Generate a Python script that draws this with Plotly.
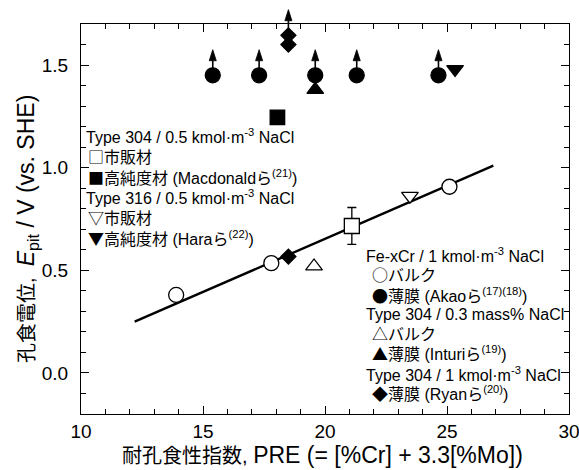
import plotly.graph_objects as go

# ---------------- data ----------------
fecr_bulk_pre = [13.9, 17.8, 25.1]
fecr_bulk_epit = [0.38, 0.535, 0.907]
fecr_film_pre = [15.4, 17.3, 19.6, 21.3, 24.65]
fecr_film_epit = [1.45, 1.45, 1.45, 1.45, 1.45]
t304_03_bulk_pre = [19.55]
t304_03_bulk_epit = [0.52]
t304_03_film_pre = [19.6]
t304_03_film_epit = [1.38]
t304_1_film_pre = [18.5, 18.5, 18.5]
t304_1_film_epit = [0.567, 1.60, 1.645]
t304_05_comm_pre = [21.1]
t304_05_comm_epit = [0.716]
t304_05_comm_err = [0.09]
t304_05_hp_pre = [18.05]
t304_05_hp_epit = [1.245]
t316_comm_pre = [23.48]
t316_comm_epit = [0.862]
t316_hp_pre = [25.33]
t316_hp_epit = [1.48]
fit_pre = [12.2, 26.9]
fit_epit = [0.25, 1.01]
# points given as lower bounds (drawn with an upward arrow)
lb_pre = fecr_film_pre + [18.5]
lb_epit = fecr_film_epit + [1.645]

x_range = [10, 30]
y_range = [-0.2, 1.7]

FONT = "Liberation Sans, Arial, Noto Sans CJK JP, sans-serif"
SYM = "font-family:Noto Sans CJK JP"

W, H = 579, 470
ML, MR, MT, MB = 81, 10, 0, 56
PLOT_W = W - ML - MR          # 488
PLOT_H = H - MT - MB          # 414
AX_H = 390                    # visible axes height in px
dom_top = AX_H / PLOT_H
# y2 spans the full paper height, with the same scale as y
y2_range = [y_range[0], y_range[0] + (y_range[1] - y_range[0]) * PLOT_H / AX_H]

fig = go.Figure()

# fit line
fig.add_trace(go.Scatter(x=fit_pre, y=fit_epit, mode="lines",
                         line=dict(color="black", width=2.4), showlegend=False))


def mk(x, y, symbol, size, filled, err=None):
    kw = {}
    if err is not None:
        kw["error_y"] = dict(type="data", array=err, visible=True, color="black",
                             thickness=1.3, width=4.5)
    fig.add_trace(go.Scatter(
        x=x, y=y, mode="markers", showlegend=False, cliponaxis=False,
        marker=dict(symbol=symbol, size=size,
                    color="black" if filled else "white",
                    line=dict(color="black", width=1.3)), **kw))


mk(fecr_bulk_pre, fecr_bulk_epit, "circle", 15, False)
mk(t304_05_comm_pre, t304_05_comm_epit, "square", 15, False, t304_05_comm_err)
mk(t316_comm_pre, t316_comm_epit, "triangle-down", 14.5, False)
mk(t304_03_bulk_pre, t304_03_bulk_epit, "triangle-up", 14.5, False)
mk(t304_03_film_pre, t304_03_film_epit, "triangle-up", 14.5, True)
mk(fecr_film_pre, fecr_film_epit, "circle", 15, True)
mk(t304_1_film_pre, t304_1_film_epit, "diamond", 11.5, True)
mk(t304_05_hp_pre, t304_05_hp_epit, "square", 14.5, True)
mk(t316_hp_pre, t316_hp_epit, "triangle-down", 14.5, True)

# upward arrows for lower-bound points (on y2 so they can rise above the frame)
ARROW_LEN = 0.125
HEAD_H = 0.054
HEAD_HW = 0.145
sx, sy, hx, hy = [], [], [], []
for xv, yv in zip(lb_pre, lb_epit):
    tip = yv + ARROW_LEN
    base = tip - HEAD_H
    sx += [xv, xv, None]
    sy += [yv, base, None]
    hx += [xv - HEAD_HW, xv + HEAD_HW, xv, xv - HEAD_HW, None]
    hy += [base, base, tip, base, None]
fig.add_trace(go.Scatter(x=sx, y=sy, xaxis="x", yaxis="y2", mode="lines",
                         line=dict(color="black", width=1.6), showlegend=False))
fig.add_trace(go.Scatter(x=hx, y=hy, xaxis="x", yaxis="y2", mode="lines",
                         fill="toself", fillcolor="black",
                         line=dict(color="black", width=0.8), showlegend=False))

# ---------------- legend text blocks ----------------
def px2paper(px, py):
    return (px - ML) / PLOT_W, (H - MB - py) / PLOT_H


def sym(s):
    return f'<span style="{SYM}">{s}</span>'


legend_lines = [
    (84, 136, "Type 304 / 0.5 kmol·m<sup>-3</sup> NaCl"),
    (86, 156, sym("□") + "市販材"),
    (86, 177, sym("■") + "高純度材 (Macdonaldら<sup>(21)</sup>)"),
    (84, 197, "Type 316 / 0.5 kmol·m<sup>-3</sup> NaCl"),
    (86, 217, sym("▽") + "市販材"),
    (86, 238, sym("▼") + "高純度材 (Haraら<sup>(22)</sup>)"),
    (364, 255, "Fe-xCr / 1 kmol·m<sup>-3</sup> NaCl"),
    (370, 274, sym("○") + "バルク"),
    (370, 295, sym("●") + "薄膜 (Akaoら<sup>(17)(18)</sup>)"),
    (364, 314, "Type 304 / 0.3 mass% NaCl"),
    (370, 333, sym("△") + "バルク"),
    (370, 353, sym("▲") + "薄膜 (Inturiら<sup>(19)</sup>)"),
    (364, 374, "Type 304 / 1 kmol·m<sup>-3</sup> NaCl"),
    (370, 393, sym("◆") + "薄膜 (Ryanら<sup>(20)</sup>)"),
]
annotations = []
for px, py, txt in legend_lines:
    ax_, ay_ = px2paper(px, py)
    annotations.append(dict(x=ax_, y=ay_, xref="paper", yref="paper",
                            xanchor="left", yanchor="middle", showarrow=False,
                            text=txt, font=dict(size=16, color="black", family=FONT)))

# axis titles (CJK part slightly smaller than the Latin part, as in the reference)
CJK = "font-size:20px"
tx, ty = px2paper(322, 455)
annotations.append(dict(x=tx, y=ty, xref="paper", yref="paper", showarrow=False,
                        xanchor="center", yanchor="middle",
                        text=f'<span style="{CJK}">耐孔食性指数, </span>PRE (= [%Cr] + 3.3[%Mo])',
                        font=dict(size=23, color="black", family=FONT)))
tx, ty = px2paper(27, 229)
annotations.append(dict(x=tx, y=ty, xref="paper", yref="paper", showarrow=False,
                        xanchor="center", yanchor="middle", textangle=-90,
                        text=f'<span style="{CJK}">孔食電位,  </span><i>E</i><sub>pit</sub> / V (vs. SHE)',
                        font=dict(size=23, color="black", family=FONT)))

axis_common = dict(showline=True, linecolor="black", linewidth=1.2, mirror="ticks",
                   ticks="inside", ticklen=8, tickwidth=1.1, tickcolor="black",
                   showgrid=False, zeroline=False,
                   tickfont=dict(size=19, color="black", family=FONT))

fig.update_layout(
    width=W, height=H,
    margin=dict(l=ML, r=MR, t=MT, b=MB, pad=0),
    paper_bgcolor="white", plot_bgcolor="rgba(0,0,0,0)",
    showlegend=False,
    font=dict(family=FONT, color="black"),
    xaxis=dict(range=x_range, dtick=5, tick0=10, ticklabeloverflow="allow",
               minor=dict(ticks="inside", dtick=1, ticklen=5, tickwidth=1.1,
                          tickcolor="black", showgrid=False),
               **axis_common),
    yaxis=dict(range=y_range, domain=[0, dom_top], dtick=0.5, tick0=0, tickformat=".1f",
               ticklabelstandoff=8,
               minor=dict(ticks="inside", dtick=0.1, ticklen=5, tickwidth=1.1,
                          tickcolor="black", showgrid=False),
               **axis_common),
    yaxis2=dict(range=y2_range, domain=[0, 1], anchor="x", visible=False,
                showgrid=False, zeroline=False),
    annotations=annotations,
)

fig.write_html("out.html")
